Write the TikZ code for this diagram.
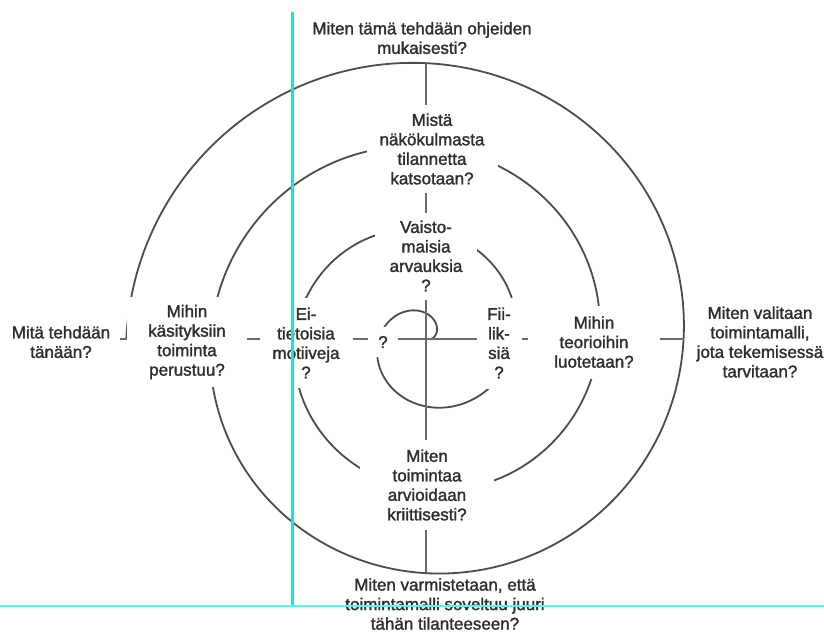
\documentclass[tikz,border=0pt]{standalone}
\usepackage{fontspec}
\setmainfont{Liberation Sans}
\newfontfamily\lblfont{Liberation Sans}[FakeBold=1.6]
\usetikzlibrary{positioning}
\definecolor{guidecyan}{RGB}{0,235,240}
\definecolor{guidelight}{RGB}{95,240,245}

\begin{document}
\begin{tikzpicture}[
	x=1pt, y=-1pt,
	every node/.style={font=\lblfont\fontsize{17}{19.5}\selectfont, text=black!82},
	lbl/.style={fill=white, align=center, inner sep=0pt},
	spiral/.style={draw=black!70, line width=1.8pt},
	axis/.style={draw=black!58, line width=2.5pt},
	guide/.style={draw=guidecyan, line width=3pt}
]
\fill[white] (0,0) rectangle (824,632);
\useasboundingbox (0,0) rectangle (824,632);

% spiraali keskeltä ulospäin
\coordinate (ctr) at (426,339);
\draw[spiral] plot[domain=0:22.0, samples=600, smooth, variable=\t]
	({426+(13.4*\t+5)*cos(\t r)}, {339-0.99*(13.4*\t+5)*sin(\t r)});

\coordinate (axL) at (120,339);
\coordinate (axR) at (684,339);
\coordinate (axT) at (426,62);
\coordinate (axB) at (426,573);
\draw[axis] (axL) -- (axR);
\draw[axis] (axT) -- (axB);

\node[lbl] (ohje) at (422,38) {Miten tämä tehdään ohjeiden\\mukaisesti?};
\node[lbl, minimum width=131pt, minimum height=88pt] (mista) at (432,149) {Mistä\\näkökulmasta\\tilannetta\\katsotaan?};
\node[lbl, minimum width=102pt, minimum height=87pt] (vaisto) at (426,256) {Vaisto-\\maisia\\arvauksia\\?};
\node[lbl, minimum width=30pt, minimum height=30pt] (kysy) at (383,342) {?};
\node[lbl, minimum width=93pt, minimum height=90pt] (ei) at (306,343) {Ei-\\tietoisia\\motiiveja\\?};
\node[lbl, minimum width=45pt, minimum height=91pt] (fii) at (499,343) {Fii-\\lik-\\siä\\?};
\node[lbl, minimum width=132pt, minimum height=73pt] (teoria) at (594,342) {Mihin\\teorioihin\\luotetaan?};
\node[lbl, minimum width=120pt, minimum height=90pt] (kasitys) at (187,342) {Mihin\\käsityksiin\\toiminta\\perustuu?};
\node[lbl] (tanaan) at (61,342) {Mitä tehdään\\tänään?};
\node[lbl] (valinta) at (760,342) {Miten valitaan\\toimintamalli,\\jota tekemisessä\\tarvitaan?};
\node[lbl, minimum width=134pt, minimum height=90pt] (arvio) at (427,485) {Miten\\toimintaa\\arvioidaan\\kriittisesti?};
\node[lbl] (varmistus) at (445,604) {Miten varmistetaan, että\\toimintamalli soveltuu juuri\\tähän tilanteeseen?};

% apuviivat
\coordinate (gv1) at (292,12);
\coordinate (gv2) at (292,605);
\coordinate (gh1) at (0,606);
\coordinate (gh2) at (824,606);
\draw[guide] (gv1) -- (gv2);
\draw[guidelight, line width=1.3pt] (gh1) -- (gh2);
\end{tikzpicture}
\end{document}
